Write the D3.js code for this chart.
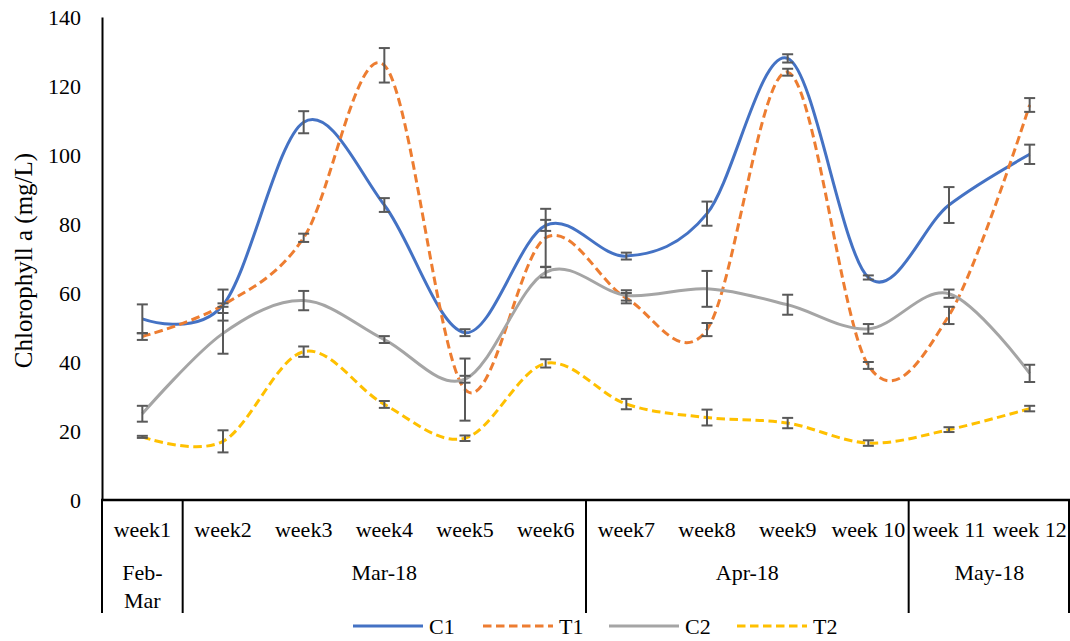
<!DOCTYPE html>
<html>

<head>
    <style>
        body { margin: 0; background: #fff; }
        svg text { font-family: "Times New Roman", "Liberation Serif", Tinos, "DejaVu Serif", serif !important; fill: #000; }
    </style>
    <script src="https://cdnjs.cloudflare.com/ajax/libs/d3/7.8.5/d3.min.js"></script>
    <title>Chlorophyll a</title>
</head>

<body>
    <script>

        const width = 1070;
        const height = 641;

        // chart data
        const weeks = ["week1", "week2", "week3", "week4", "week5", "week6",
            "week7", "week8", "week9", "week 10", "week 11", "week 12"];
        const months = ["Feb-|Mar", "Mar-18", "Apr-18", "May-18"];
        const monthSpans = [1, 5, 4, 2];
        const yTicks = [0, 20, 40, 60, 80, 100, 120, 140];

        const c1 = [52.5, 56.5, 109.5, 85.5, 48.5, 79.6, 70.7, 83, 128, 64.5, 85.5, 100.2];
        const c1Err = [4.2, 4.5, 3.2, 2, 1, 1.6, 1, 3.5, 1.2, 0.6, 5.2, 2.8];
        const t1 = [47.4, 56.5, 76, 126, 32, 76, 58.5, 49.4, 124, 39, 53.5, 114.5];
        const t1Err = [1, 0.5, 1.2, 5, 9, 8.4, 1.5, 1.9, 1, 1, 2.5, 2];
        const c2 = [25, 48.3, 57.8, 46.5, 35, 66, 59.3, 61.2, 56.6, 49.6, 59.8, 36.7];
        const c2Err = [2.3, 5.9, 2.8, 1, 1, 1.5, 1.5, 5.2, 2.9, 1.4, 1.2, 2.5];
        const t2 = [18.3, 17, 43, 27.7, 17.9, 39.6, 27.8, 23.9, 22.3, 16.5, 20.4, 26.5];
        const t2Err = [0.3, 3.2, 1.5, 1, 0.8, 1.2, 1.5, 2.3, 1.5, 0.8, 0.7, 0.8];

        const series = [
            { name: "C1", values: c1, err: c1Err, color: "#4472C4", dash: null },
            { name: "T1", values: t1, err: t1Err, color: "#ED7D31", dash: "8.5,4.5" },
            { name: "C2", values: c2, err: c2Err, color: "#A5A5A5", dash: null },
            { name: "T2", values: t2, err: t2Err, color: "#FFC000", dash: "8.5,4.5" }
        ];

        const margin = { top: 17, right: 0, bottom: 141, left: 102 };

        const svg = d3.select("body").append("svg")
            .attr("width", width).attr("height", height);

        const x = d3.scaleBand()
            .domain(weeks)
            .range([margin.left, width - margin.right]);

        const y = d3.scaleLinear()
            .domain([0, 140])
            .range([height - margin.bottom, margin.top]);

        const cx = d => x(d) + x.bandwidth() / 2;

        // y axis
        const yAxis = svg.append("g")
            .attr("transform", `translate(${margin.left},0)`)
            .call(d3.axisLeft(y).tickValues(yTicks).tickSize(0).tickPadding(21));
        yAxis.attr("font-family", null);
        yAxis.select(".domain").attr("stroke", "#000").attr("stroke-width", 2);
        yAxis.selectAll("text")
            .style("font-size", "22px");

        svg.append("text")
            .attr("transform", `translate(32,${(y(0) + y(140)) / 2 + 2}) rotate(-90)`)
            .attr("text-anchor", "middle")
            .style("font-size", "25px")
            .text("Chlorophyll a (mg/L)");

        // smooth lines
        const line = d3.line()
            .x((d, i) => cx(weeks[i]))
            .y(d => y(d))
            .curve(d3.curveCardinal.tension(0));

        svg.selectAll("path.series")
            .data(series)
            .enter()
            .append("path")
            .attr("class", "series")
            .attr("d", d => line(d.values))
            .attr("fill", "none")
            .attr("stroke", d => d.color)
            .attr("stroke-width", 3)
            .attr("stroke-dasharray", d => d.dash);

        // error bars
        const capW = 5.5;
        series.forEach(s => {
            const g = svg.append("g")
                .attr("stroke", "#595959")
                .attr("stroke-width", 2)
                .attr("fill", "none");
            s.values.forEach((v, i) => {
                const px = cx(weeks[i]);
                const top = y(v + s.err[i]);
                const bot = y(v - s.err[i]);
                g.append("line").attr("x1", px).attr("x2", px).attr("y1", top).attr("y2", bot);
                g.append("line").attr("x1", px - capW).attr("x2", px + capW).attr("y1", top).attr("y2", top);
                g.append("line").attr("x1", px - capW).attr("x2", px + capW).attr("y1", bot).attr("y2", bot);
            });
        });

        // x axis: week labels
        const xAxis = svg.append("g")
            .attr("transform", `translate(0,${y(0)})`)
            .call(d3.axisBottom(x).tickSize(0).tickPadding(0));
        xAxis.attr("font-family", null);
        xAxis.select(".domain").remove();
        xAxis.selectAll("text")
            .attr("y", 37)
            .attr("dy", null)
            .style("font-size", "22px");

        svg.append("line")
            .attr("x1", margin.left - 1).attr("x2", width)
            .attr("y1", y(0)).attr("y2", y(0))
            .attr("stroke", "#000").attr("stroke-width", 2.5);

        // month groups
        let start = 0;
        const groupG = svg.append("g");
        const sepBottom = 613;
        months.forEach((m, k) => {
            const first = weeks[start];
            const last = weeks[start + monthSpans[k] - 1];
            const x0 = x(first);
            const x1 = x(last) + x.bandwidth();
            groupG.append("line")
                .attr("x1", x0).attr("x2", x0)
                .attr("y1", y(0)).attr("y2", sepBottom)
                .attr("stroke", "#000").attr("stroke-width", 2);
            const t = groupG.append("text")
                .attr("text-anchor", "middle")
                .style("font-size", "22px");
            const parts = m.split("|");
            parts.forEach((p, j) => {
                t.append("tspan")
                    .attr("x", (x0 + x1) / 2)
                    .attr("y", 580 + j * 28)
                    .text(p);
            });
            start += monthSpans[k];
        });
        groupG.append("line")
            .attr("x1", width - 1).attr("x2", width - 1)
            .attr("y1", y(0)).attr("y2", sepBottom)
            .attr("stroke", "#000").attr("stroke-width", 2);

        // legend
        const legendX = [353, 483, 609, 737];
        const legend = svg.append("g");
        series.forEach((s, i) => {
            legend.append("line")
                .attr("x1", legendX[i]).attr("x2", legendX[i] + 70)
                .attr("y1", 626).attr("y2", 626)
                .attr("stroke", s.color)
                .attr("stroke-width", 3)
                .attr("stroke-dasharray", s.dash);
            legend.append("text")
                .attr("x", legendX[i] + 76)
                .attr("y", 634)
                .style("font-size", "22px")
                .text(s.name);
        });

    </script>
</body>

</html>
